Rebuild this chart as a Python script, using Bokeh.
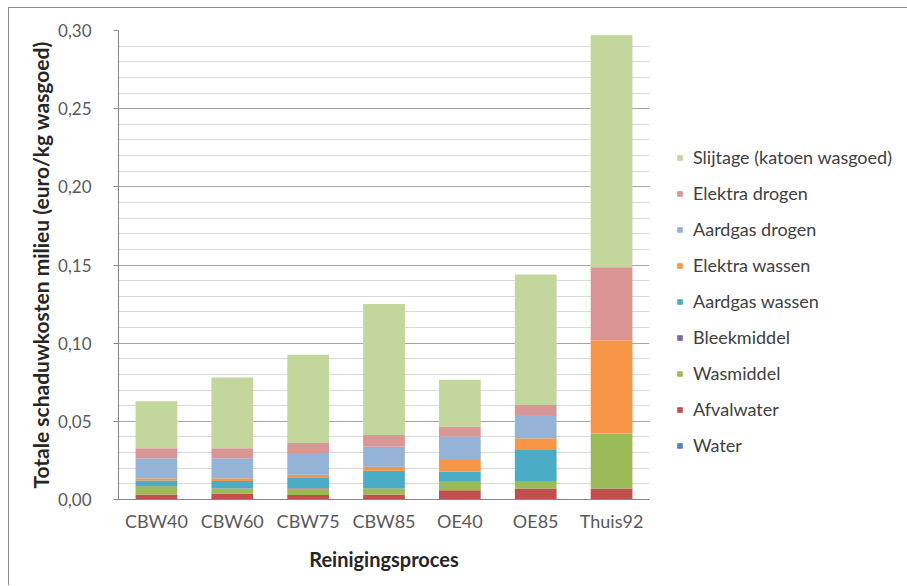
from bokeh.plotting import figure
from bokeh.models import (FactorRange, Range1d, FixedTicker, CustomJSTickFormatter,
                          Legend, LegendItem)
from bokeh.embed import file_html
from bokeh.resources import INLINE

categories = ["CBW40", "CBW60", "CBW75", "CBW85", "OE40", "OE85", "Thuis92"]

water          = [0.0002, 0.0002, 0.0002, 0.0002, 0.0002, 0.0002, 0.0003]
afvalwater     = [0.0030, 0.0036, 0.0026, 0.0030, 0.0057, 0.0068, 0.0068]
wasmiddel      = [0.0053, 0.0032, 0.0043, 0.0038, 0.0053, 0.0042, 0.0351]
bleekmiddel    = [0.0002, 0.0002, 0.0002, 0.0002, 0.0002, 0.0002, 0.0000]
aardgas_wassen = [0.0034, 0.0047, 0.0064, 0.0112, 0.0064, 0.0202, 0.0000]
elektra_wassen = [0.0015, 0.0017, 0.0021, 0.0026, 0.0075, 0.0075, 0.0596]
aardgas_drogen = [0.0128, 0.0128, 0.0139, 0.0128, 0.0149, 0.0149, 0.0000]
elektra_drogen = [0.0064, 0.0064, 0.0064, 0.0075, 0.0064, 0.0064, 0.0468]
slijtage       = [0.0300, 0.0452, 0.0565, 0.0837, 0.0300, 0.0836, 0.1484]

y_ticks = [0.0, 0.05, 0.10, 0.15, 0.20, 0.25, 0.30]
y_minor = [0.01, 0.02, 0.03, 0.04, 0.06, 0.07, 0.08, 0.09, 0.11, 0.12, 0.13, 0.14,
           0.16, 0.17, 0.18, 0.19, 0.21, 0.22, 0.23, 0.24, 0.26, 0.27, 0.28, 0.29]

series_names = ["Water", "Afvalwater", "Wasmiddel", "Bleekmiddel", "Aardgas wassen",
                "Elektra wassen", "Aardgas drogen", "Elektra drogen",
                "Slijtage (katoen wasgoed)"]
series_values = [water, afvalwater, wasmiddel, bleekmiddel, aardgas_wassen,
                 elektra_wassen, aardgas_drogen, elektra_drogen, slijtage]
colors = ["#4F81BD", "#C0504D", "#9BBB59", "#8064A2", "#4BACC6",
          "#F79646", "#95B3D7", "#D99694", "#C3D69B"]

keys = ["s%d" % i for i in range(len(series_names))]
data = {"cat": categories}
for k, v in zip(keys, series_values):
    data[k] = v

p = figure(x_range=FactorRange(*categories, range_padding=0),
           y_range=Range1d(0, 0.30),
           frame_width=531, frame_height=469,
           output_backend="svg", toolbar_location=None,
           min_border_left=109, min_border_top=22, min_border_bottom=86,
           min_border_right=258)
p.styles = {"border-left": "1px solid #8c8c8c", "border-top": "1px solid #8c8c8c",
            "margin-left": "8px", "margin-top": "7px"}
p.outline_line_color = None

renderers = p.vbar_stack(keys, x="cat", width=0.55, source=data,
                         color=colors, line_color=None)

items = [LegendItem(label=n, renderers=[r]) for n, r in zip(series_names, renderers)]
items = items[::-1]
legend = Legend(items=items, location=(27, 43), orientation="vertical",
                glyph_width=7, glyph_height=7, label_height=22, spacing=14,
                label_standoff=10, padding=0, margin=0,
                border_line_color=None, background_fill_alpha=0,
                label_text_font="Lato", label_text_font_size="18px",
                label_text_color="#404040")
p.add_layout(legend, "right")

font = "Lato"
p.yaxis.ticker = FixedTicker(ticks=y_ticks, minor_ticks=y_minor)
p.yaxis.formatter = CustomJSTickFormatter(code="return tick.toFixed(2).replace('.', ',');")
p.yaxis.axis_line_color = "#868686"
p.yaxis.major_tick_line_color = "#868686"
p.yaxis.major_tick_in = 0
p.yaxis.major_tick_out = 5
p.yaxis.minor_tick_line_color = None
p.yaxis.major_label_text_font = font
p.yaxis.major_label_text_font_size = "17px"
p.yaxis.major_label_text_color = "#595959"
p.yaxis.major_label_standoff = 22
p.yaxis.axis_label = "Totale schaduwkosten milieu (euro/kg wasgoed)"
p.yaxis.axis_label_text_font = font
p.yaxis.axis_label_text_font_style = "bold"
p.yaxis.axis_label_text_font_size = "21px"
p.yaxis.axis_label_text_color = "#262626"
p.yaxis.axis_label_standoff = 2

p.xaxis.axis_line_color = "#868686"
p.xaxis.major_tick_line_color = None
p.xaxis.minor_tick_line_color = None
p.xaxis.major_label_text_font = font
p.xaxis.major_label_text_font_size = "18px"
p.xaxis.major_label_text_color = "#595959"
p.xaxis.major_label_standoff = 4
p.xaxis.axis_label = "Reinigingsproces"
p.xaxis.axis_label_text_font = font
p.xaxis.axis_label_text_font_style = "bold"
p.xaxis.axis_label_text_font_size = "20px"
p.xaxis.axis_label_text_color = "#262626"
p.xaxis.axis_label_standoff = 12

p.xgrid.grid_line_color = None
p.ygrid.ticker = FixedTicker(ticks=y_ticks, minor_ticks=y_minor)
p.ygrid.grid_line_color = "#a6a6a6"
p.ygrid.minor_grid_line_color = "#d9d9d9"
p.ygrid.level = "underlay"

open("out.html", "w").write(file_html(p, INLINE))
